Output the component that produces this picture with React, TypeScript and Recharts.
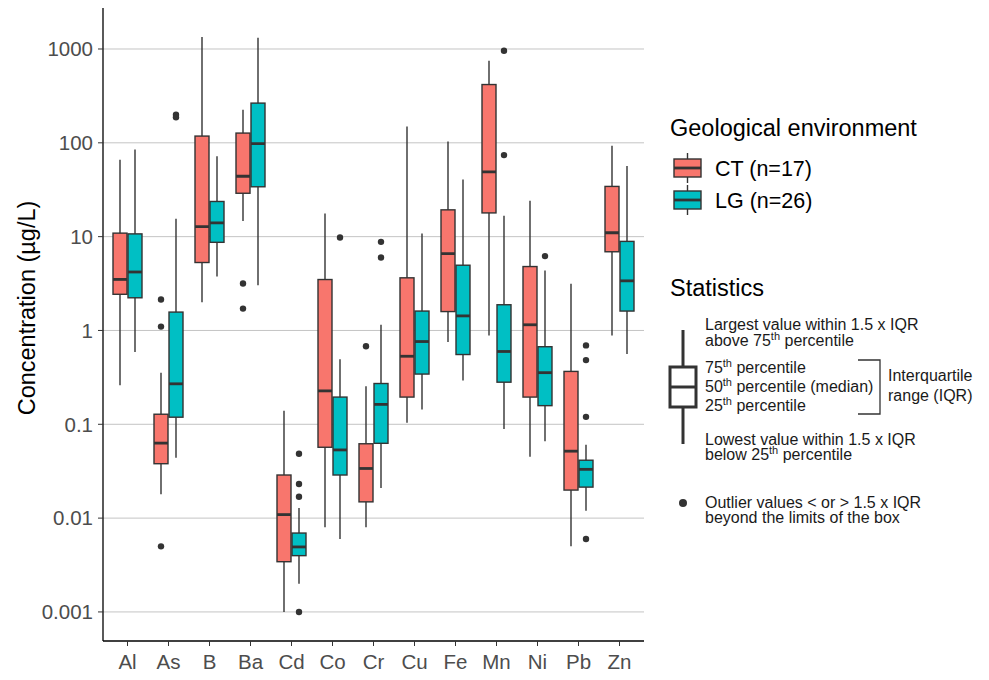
import React from 'react';
import { ComposedChart, Bar, XAxis, YAxis, CartesianGrid } from 'recharts';

// Categories
const elements = ['Al', 'As', 'B', 'Ba', 'Cd', 'Co', 'Cr', 'Cu', 'Fe', 'Mn', 'Ni', 'Pb', 'Zn'];

// Y-axis ticks
const yTicks = [0.001, 0.01, 0.1, 1, 10, 100, 1000];

// Group labels
const groupNames = ['CT (n=17)', 'LG (n=26)'];

// CT statistics (µg/L)
const ctWhiskerLow = [0.26, 0.018, 2.0, 14.7, 0.001, 0.008, 0.008, 0.104, 0.755, 0.885, 0.045, 0.005, 0.885];
const ctQ1 = [2.43, 0.038, 5.3, 29, 0.00343, 0.0569, 0.0149, 0.195, 1.59, 17.9, 0.195, 0.0199, 6.9];
const ctMedian = [3.5, 0.063, 12.8, 44, 0.0109, 0.227, 0.0338, 0.531, 6.6, 49, 1.15, 0.0517, 11];
const ctQ3 = [10.9, 0.128, 118, 127, 0.0288, 3.49, 0.062, 3.64, 19.3, 418, 4.8, 0.366, 34.3];
const ctWhiskerHigh = [66, 0.355, 1346, 225, 0.139, 17.7, 0.255, 149, 103, 750, 24.2, 3.14, 93];
const ctOutliers: number[][] = [[], [2.14, 1.1, 0.005], [], [3.17, 1.71], [], [], [0.678], [], [], [], [], [], []];

// LG statistics (µg/L)
const lgWhiskerLow = [0.59, 0.044, 3.76, 3.04, 0.002, 0.006, 0.021, 0.144, 0.293, 0.089, 0.066, 0.012, 0.56];
const lgQ1 = [2.23, 0.119, 8.7, 34, 0.00398, 0.0288, 0.0627, 0.343, 0.554, 0.281, 0.158, 0.0214, 1.61];
const lgMedian = [4.2, 0.27, 14, 98, 0.00493, 0.0533, 0.163, 0.762, 1.43, 0.597, 0.355, 0.0331, 3.38];
const lgQ3 = [10.7, 1.57, 23.7, 265, 0.00693, 0.195, 0.272, 1.61, 4.96, 1.88, 0.671, 0.0414, 8.9];
const lgWhiskerHigh = [85, 15.5, 72, 1318, 0.0128, 0.493, 1.15, 10.8, 40.7, 16.7, 4.36, 0.0607, 56.6];
const lgOutliers: number[][] = [[], [199, 187], [], [], [0.0485, 0.0231, 0.0169, 0.001], [9.8], [8.8, 6.0], [], [], [959, 74], [6.2], [0.693, 0.483, 0.12, 0.006], []];

const CT_FILL = '#F8766D';
const LG_FILL = '#00BFC4';
const DARK = '#333333';
const FONT = '"Liberation Sans", Arial, Helvetica, sans-serif';

const data = elements.map((el, i) => ({
  el,
  ct: { lo: ctWhiskerLow[i], q1: ctQ1[i], med: ctMedian[i], q3: ctQ3[i], hi: ctWhiskerHigh[i], out: ctOutliers[i] },
  lg: { lo: lgWhiskerLow[i], q1: lgQ1[i], med: lgMedian[i], q3: lgQ3[i], hi: lgWhiskerHigh[i], out: lgOutliers[i] },
}));

const makeShape = (group: 'ct' | 'lg', fill: string) => (props: any) => {
  const { x, y, width, height, payload } = props;
  const s = payload[group];
  const top = Math.min(y, y + height);
  const bot = Math.max(y, y + height);
  const lHi = Math.log10(s.hi);
  const lLo = Math.log10(s.lo);
  const py = (v: number) => top + ((lHi - Math.log10(v)) / (lHi - lLo)) * (bot - top);
  const cx = x + width / 2;
  const yq3 = py(s.q3);
  const yq1 = py(s.q1);
  const ym = py(s.med);
  return (
    <g>
      <line x1={cx} x2={cx} y1={top} y2={bot} stroke={DARK} strokeWidth={1.4} />
      <rect x={x} y={yq3} width={width} height={yq1 - yq3} fill={fill} stroke={DARK} strokeWidth={1.4} />
      <line x1={x} x2={x + width} y1={ym} y2={ym} stroke={DARK} strokeWidth={2.8} />
      {s.out.map((o: number, k: number) => (
        <circle key={k} cx={cx} cy={py(o)} r={3.2} fill={DARK} />
      ))}
    </g>
  );
};

const YTitle = () => (
  <text
    x={35}
    y={308}
    transform="rotate(-90, 35, 308)"
    textAnchor="middle"
    fontFamily={FONT}
    fontSize={23.5}
    fill="#000"
  >
    Concentration (µg/L)
  </text>
);

const Sup = ({ base, rest }: { base: string; rest: string }) => (
  <>
    {base}
    <tspan dy={-6} fontSize={11}>th</tspan>
    <tspan dy={6}>{rest}</tspan>
  </>
);

const LegendOverlay = () => {
  const fills = [CT_FILL, LG_FILL];
  const centers = [168, 200];
  return (
    <svg width={989} height={680} style={{ position: 'absolute', left: 0, top: 0, pointerEvents: 'none' }}>
      <g fontFamily={FONT}>
        <text x={670} y={136} fontSize={23.5} fill="#000">Geological environment</text>
        {groupNames.map((n, i) => (
          <g key={n}>
            <line x1={687.5} x2={687.5} y1={centers[i] - 15} y2={centers[i] + 15} stroke={DARK} strokeWidth={1.4} />
            <rect x={674} y={centers[i] - 9} width={27} height={18} fill={fills[i]} stroke={DARK} strokeWidth={1.4} />
            <line x1={674} x2={701} y1={centers[i]} y2={centers[i]} stroke={DARK} strokeWidth={2.8} />
            <text x={715} y={centers[i] + 8} fontSize={21.5} fill="#000">{n}</text>
          </g>
        ))}
        <text x={670} y={296} fontSize={23.5} fill="#000">Statistics</text>
        <line x1={683} x2={683} y1={330} y2={444} stroke={DARK} strokeWidth={3} />
        <rect x={670} y={367} width={26} height={40} fill="#fff" stroke={DARK} strokeWidth={3} />
        <line x1={670} x2={696} y1={387} y2={387} stroke={DARK} strokeWidth={3} />
        <g fontSize={16} fill="#1a1a1a">
          <text x={705} y={330}>Largest value within 1.5 x IQR</text>
          <text x={705} y={346}><Sup base="above 75" rest=" percentile" /></text>
          <text x={705} y={373}><Sup base="75" rest=" percentile" /></text>
          <text x={705} y={392}><Sup base="50" rest=" percentile (median)" /></text>
          <text x={705} y={411}><Sup base="25" rest=" percentile" /></text>
          <text x={705} y={445}>Lowest value within 1.5 x IQR</text>
          <text x={705} y={460}><Sup base="below 25" rest=" percentile" /></text>
          <text x={888} y={381}>Interquartile</text>
          <text x={888} y={401}>range (IQR)</text>
          <text x={705} y={508}>Outlier values &lt; or &gt; 1.5 x IQR</text>
          <text x={705} y={523}>beyond the limits of the box</text>
        </g>
        <path d="M858,360 L880,360 L880,414 L858,414" fill="none" stroke={DARK} strokeWidth={1.3} />
        <circle cx={683} cy={503} r={4} fill={DARK} />
      </g>
    </svg>
  );
};

export default function App() {
  return (
    <div style={{ position: 'absolute', left: 0, top: 0, width: 989, height: 680, background: '#fff' }}>
      <ComposedChart
        width={989}
        height={680}
        data={data}
        margin={{ top: 8, right: 345, left: 0, bottom: 0 }}
        barGap={1}
        barSize={14}
      >
        <CartesianGrid vertical={false} horizontalValues={yTicks} stroke="#C4C4C4" strokeWidth={1} />
        <XAxis
          dataKey="el"
          height={39}
          padding={{ left: 4, right: 4 }}
          tickSize={5}
          tickMargin={8}
          axisLine={{ stroke: '#000', strokeWidth: 1.3 }}
          tickLine={{ stroke: DARK }}
          tick={{ fill: '#4D4D4D', fontSize: 20.5, fontFamily: FONT }}
          interval={0}
        />
        <YAxis
          scale="log"
          domain={[0.00049, 2735]}
          allowDataOverflow
          ticks={yTicks}
          tickFormatter={(v: number) => String(v)}
          width={103}
          tickSize={5}
          tickMargin={5}
          axisLine={{ stroke: '#000', strokeWidth: 1.3 }}
          tickLine={{ stroke: DARK }}
          tick={{ fill: '#4D4D4D', fontSize: 20.5, fontFamily: FONT }}
          label={<YTitle />}
        />
        <Bar
          dataKey={(d: any) => [d.ct.lo, d.ct.hi]}
          name={groupNames[0]}
          fill={CT_FILL}
          shape={makeShape('ct', CT_FILL)}
          isAnimationActive={false}
        />
        <Bar
          dataKey={(d: any) => [d.lg.lo, d.lg.hi]}
          name={groupNames[1]}
          fill={LG_FILL}
          shape={makeShape('lg', LG_FILL)}
          isAnimationActive={false}
        />
      </ComposedChart>
      <LegendOverlay />
    </div>
  );
}
